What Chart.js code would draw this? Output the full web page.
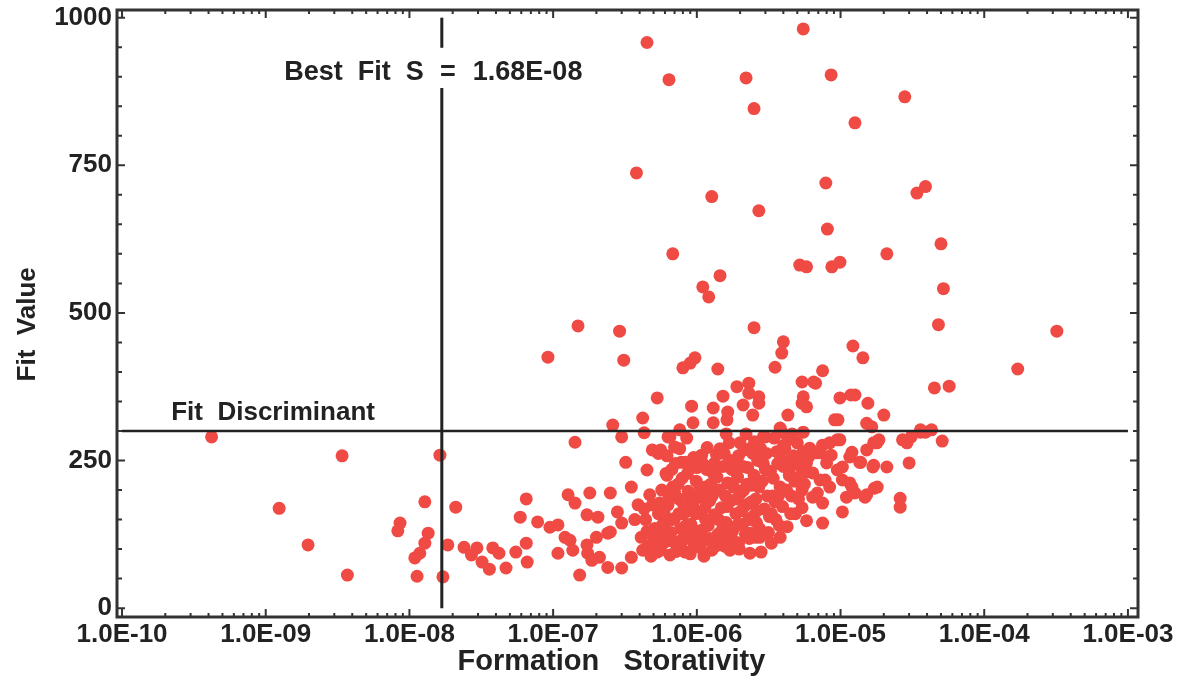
<!DOCTYPE html>
<html>
<head>
<meta charset="utf-8">
<title>Fit Value vs Formation Storativity</title>
<script src="https://cdn.jsdelivr.net/npm/chart.js@4.4.0/dist/chart.umd.min.js"></script>
<style>
html, body { margin: 0; padding: 0; background: #fff; }
#wrap { width: 1185px; height: 681px; }
</style>
</head>
<body>
<div id="wrap"><canvas id="chart" width="1185" height="681"></canvas></div>
<script>
// axis ticks
const xDecades = [1e-10, 1e-9, 1e-8, 1e-7, 1e-6, 1e-5, 1e-4, 1e-3];
const yTicks = [0, 250, 500, 750, 1000];

// reference lines
const bestFitS = 1.68e-8;
const fitDiscriminant = 300;

// [storativity, fit value]
const leftTail = [
    [4.2e-10, 290], [1.24e-9, 169], [1.97e-9, 107], [3.4e-9, 258], [3.7e-9, 56],
    [8.6e-9, 144], [8.3e-9, 131], [1.28e-8, 180], [1.35e-8, 127], [1.28e-8, 110],
    [1.18e-8, 93], [1.09e-8, 85], [1.13e-8, 54], [1.63e-8, 259], [1.71e-8, 53],
    [1.85e-8, 107], [2.1e-8, 171], [2.4e-8, 103], [2.95e-8, 102], [2.7e-8, 90],
    [3.2e-8, 78], [3.6e-8, 66], [3.8e-8, 102], [4.2e-8, 93], [4.7e-8, 68],
    [5.5e-8, 95], [6.5e-8, 110], [6.6e-8, 78], [6.5e-8, 185], [5.9e-8, 154],
    [7.8e-8, 146], [9.5e-8, 137], [9.2e-8, 425]
];

const lowerMiddle = [
    [1.08e-7, 141], [1.27e-7, 192], [1.42e-7, 178], [1.21e-7, 120], [1.31e-7, 115],
    [1.08e-7, 93], [1.37e-7, 98], [1.53e-7, 56], [1.42e-7, 281], [1.8e-7, 195],
    [1.72e-7, 158], [2.05e-7, 154], [1.72e-7, 107], [1.74e-7, 93], [2.0e-7, 120],
    [1.86e-7, 81], [2.5e-7, 195], [2.8e-7, 163], [2.4e-7, 69], [3.0e-7, 68],
    [2.5e-7, 129], [3.0e-7, 144], [3.5e-7, 86], [3.5e-7, 205], [3.2e-7, 247],
    [4.5e-7, 234], [2.6e-7, 310], [3.0e-7, 290], [4.2e-7, 322], [4.3e-7, 297],
    [5.3e-7, 356], [4.9e-7, 268], [6.2e-7, 225], [5.6e-7, 268], [6.3e-7, 290],
    [7.0e-7, 273], [7.8e-7, 247], [1.49e-7, 478], [2.9e-7, 469], [3.1e-7, 420],
    [2.4e-7, 127], [2.1e-7, 86], [5.4e-7, 262], [7.6e-7, 302], [6.5e-7, 290],
    [8.3e-7, 247], [1.08e-6, 259], [8.5e-7, 288], [1.05e-6, 256]
];

const upperScatter = [
    [4.5e-7, 958], [6.4e-7, 895], [2.2e-6, 898], [2.5e-6, 846], [5.5e-6, 981],
    [8.6e-6, 903], [2.8e-5, 866], [1.26e-5, 822], [3.8e-7, 737], [1.27e-6, 697],
    [2.7e-6, 673], [7.9e-6, 720], [8.1e-6, 642], [3.4e-5, 703], [3.9e-5, 714],
    [6.8e-7, 600], [2.1e-5, 600], [5.0e-5, 617], [5.2e-5, 541], [4.8e-5, 480],
    [3.2e-4, 469], [1.71e-4, 405], [4.5e-5, 373], [5.7e-5, 376], [1.45e-6, 563],
    [1.1e-6, 544], [1.21e-6, 527], [5.2e-6, 581], [5.8e-6, 578], [8.7e-6, 578],
    [9.9e-6, 586], [2.5e-6, 475], [4.0e-6, 451], [3.9e-6, 432], [8.0e-7, 407],
    [9.7e-7, 424], [9.0e-7, 415], [1.4e-6, 405], [3.5e-6, 408], [1.22e-5, 444],
    [1.43e-5, 424], [7.5e-6, 402]
];

const band300 = [
    [1.9e-6, 375], [2.3e-6, 381], [2.3e-6, 364], [5.4e-6, 383], [6.5e-6, 383],
    [1.52e-6, 359], [2.7e-6, 358], [5.5e-6, 358], [9.9e-6, 356], [1.26e-5, 361],
    [1.55e-5, 347], [9.2e-7, 342], [1.3e-6, 339], [2.1e-6, 344], [2.7e-6, 347],
    [5.4e-6, 347], [4.3e-6, 327], [9.1e-6, 319], [1.52e-5, 313], [2.0e-5, 327],
    [2.45e-6, 327], [1.64e-6, 332], [5.8e-6, 341], [6.7e-6, 381], [1.18e-5, 361],
    [9.6e-6, 319], [1.65e-5, 307], [9.4e-7, 314], [1.3e-6, 314], [1.62e-6, 319],
    [3.8e-6, 305], [4.3e-5, 302], [3.6e-5, 298], [5.1e-5, 283], [3.1e-5, 290],
    [2.9e-5, 280], [3.9e-5, 298]
];

const rightSide = [
    [1.79e-5, 280], [1.85e-5, 285], [1.52e-5, 268], [1.36e-5, 247], [1.68e-5, 239],
    [1.72e-5, 203], [1.48e-5, 188], [1.16e-5, 212], [1.26e-5, 195], [1.1e-5, 188],
    [1.03e-5, 163], [7.5e-6, 144], [3.8e-6, 120], [8.4e-6, 280], [9.9e-6, 285],
    [1.03e-5, 239], [8.6e-6, 259], [7.5e-6, 276], [6.8e-6, 263], [6.0e-6, 256],
    [7.8e-6, 217], [6.9e-6, 195], [5.5e-6, 298], [3.9e-6, 298], [2.9e-6, 290],
    [3.0e-5, 246], [2.6e-5, 186], [2.6e-5, 171], [2.1e-5, 239], [2.7e-5, 285],
    [1.2e-5, 205], [1.52e-5, 192], [1.8e-5, 205], [1.7e-5, 242], [1.38e-5, 247],
    [1.16e-5, 256], [1.2e-5, 264], [9.5e-6, 285], [7.2e-6, 263], [6.1e-6, 271],
    [8.0e-6, 246], [9.5e-6, 234], [1.03e-5, 217], [8.4e-6, 205], [7.2e-6, 217],
    [6.4e-6, 229], [5.8e-6, 246], [4.9e-6, 251], [4.4e-6, 234], [5.2e-6, 217],
    [5.4e-6, 200], [6.4e-6, 188], [7.5e-6, 178], [1.7e-5, 280], [3.6e-5, 302],
    [1.05e-6, 103], [8.0e-7, 98], [1.3e-6, 110], [1.7e-6, 120], [1.95e-6, 110],
    [2.34e-6, 127], [2.74e-6, 120], [2.34e-6, 93], [2.8e-6, 95], [1.7e-6, 98]
];

const mainCluster = [
    [4.1e-7, 120], [4.4e-7, 150], [4.6e-7, 105], [4.9e-7, 175], [5.1e-7, 135],
    [5.3e-7, 95], [4.3e-7, 168], [5.4e-7, 160], [4.8e-7, 88], [5.0e-7, 118],
    [5.7e-7, 200], [5.8e-7, 142], [6.0e-7, 112], [6.1e-7, 228], [6.3e-7, 175],
    [6.5e-7, 90], [6.6e-7, 128], [6.8e-7, 205], [7.0e-7, 152], [7.1e-7, 245],
    [7.3e-7, 108], [7.5e-7, 185], [7.7e-7, 135], [7.9e-7, 220], [8.1e-7, 160],
    [8.3e-7, 95], [8.5e-7, 118], [8.7e-7, 198], [8.9e-7, 240], [9.1e-7, 142],
    [9.4e-7, 172], [9.6e-7, 105], [9.9e-7, 215], [1.01e-6, 130], [1.03e-6, 188],
    [6.2e-7, 258], [7.6e-7, 270], [8.8e-7, 165], [6.9e-7, 112], [9.3e-7, 120],
    [1.07e-6, 160], [1.1e-6, 245], [1.12e-6, 115], [1.15e-6, 205], [1.18e-6, 272],
    [1.2e-6, 140], [1.23e-6, 182], [1.27e-6, 98], [1.3e-6, 228], [1.33e-6, 158],
    [1.37e-6, 260], [1.4e-6, 125], [1.44e-6, 200], [1.48e-6, 170], [1.52e-6, 240],
    [1.56e-6, 105], [1.6e-6, 145], [1.64e-6, 212], [1.68e-6, 280], [1.72e-6, 182],
    [1.77e-6, 130], [1.82e-6, 250], [1.87e-6, 160], [1.92e-6, 222], [1.97e-6, 100],
    [2.02e-6, 195], [2.08e-6, 142], [2.14e-6, 268], [2.2e-6, 175], [2.26e-6, 238],
    [2.32e-6, 118], [2.38e-6, 208], [2.45e-6, 155], [2.52e-6, 282], [2.58e-6, 185],
    [2.65e-6, 250], [2.72e-6, 135], [1.25e-6, 210], [1.58e-6, 190], [1.95e-6, 258],
    [2.3e-6, 150], [1.12e-6, 88], [1.45e-6, 270],
    [2.85e-6, 215], [2.95e-6, 168], [3.05e-6, 262], [3.15e-6, 128], [3.25e-6, 232],
    [3.35e-6, 190], [3.45e-6, 288], [3.55e-6, 150], [3.65e-6, 245], [3.8e-6, 205],
    [3.95e-6, 172], [4.1e-6, 270], [4.25e-6, 138], [4.4e-6, 225], [4.55e-6, 190],
    [4.7e-6, 258], [4.85e-6, 160], [5.0e-6, 280], [5.2e-6, 242], [5.4e-6, 170],
    [5.6e-6, 210], [5.8e-6, 148], [3.3e-6, 110], [4.0e-6, 240], [4.6e-6, 295],
    [3.0e-6, 290], [2.9e-6, 125]
];

const clusterCore = [
    [3.7e-7, 150], [3.9e-7, 175], [4.2e-7, 98], [4.5e-7, 130], [4.7e-7, 192],
    [5.2e-7, 112], [5.5e-7, 178], [5.6e-7, 98], [5.9e-7, 162], [6.2e-7, 125],
    [6.4e-7, 190], [6.7e-7, 150], [7.2e-7, 96], [7.4e-7, 210], [7.8e-7, 115],
    [8.0e-7, 178], [8.4e-7, 140], [8.6e-7, 228], [9.0e-7, 92], [9.2e-7, 190],
    [9.5e-7, 255], [9.8e-7, 160], [1.0e-6, 238], [6.7e-7, 235], [5.9e-7, 122],
    [1.05e-6, 205], [1.08e-6, 132], [1.14e-6, 170], [1.17e-6, 235], [1.22e-6, 118],
    [1.28e-6, 190], [1.35e-6, 105], [1.38e-6, 222], [1.42e-6, 150], [1.5e-6, 132],
    [1.55e-6, 262], [1.62e-6, 172], [1.66e-6, 120], [1.75e-6, 235], [1.8e-6, 205],
    [1.85e-6, 112], [1.9e-6, 185], [2.0e-6, 280], [2.05e-6, 165], [2.1e-6, 240],
    [2.18e-6, 125], [2.24e-6, 210], [2.35e-6, 270], [2.4e-6, 180], [2.5e-6, 225],
    [2.55e-6, 120], [2.62e-6, 165], [2.7e-6, 205], [2.78e-6, 270], [2.9e-6, 245],
    [3.1e-6, 190], [3.2e-6, 155], [3.4e-6, 220], [3.6e-6, 265], [3.75e-6, 140],
    [3.9e-6, 250], [4.2e-6, 200], [4.5e-6, 160], [4.8e-6, 215], [5.1e-6, 185],
    [5.5e-6, 265], [5.7e-6, 230], [3.5e-6, 180], [4.3e-6, 285], [2.2e-6, 295],
    [1.6e-6, 295],
    [6.0e-7, 145], [7.0e-7, 195], [8.2e-7, 130], [9.7e-7, 185], [1.15e-6, 150],
    [1.32e-6, 245], [1.47e-6, 115], [1.7e-6, 250], [2.12e-6, 200], [2.6e-6, 145],
    [3.0e-6, 235], [3.7e-6, 190], [4.4e-6, 250], [5.3e-6, 225], [1.9e-6, 140],
    [7.5e-7, 160], [1.1e-6, 190], [2.45e-6, 262], [3.3e-6, 160], [4.0e-6, 275]
];

const FONT = "'Liberation Sans', Arial, sans-serif";
const INK = '#222222';
const DOT = 'rgb(240, 74, 68)';

function fmt_sci(v)
{
    const parts = v.toExponential(1).split('e');
    const exp = parseInt(parts[1], 10);
    const sign = exp < 0 ? '-' : '+';
    const mag = Math.abs(exp);
    return parts[0] + 'E' + sign + (mag < 10 ? '0' + mag : mag);
}

function to_points(arr)
{
    return arr.map(p => ({x: p[0], y: p[1]}));
}

const allPoints = [].concat(leftTail, lowerMiddle, upperScatter, band300, rightSide, mainCluster, clusterCore);

// frame, inward ticks and the two line labels
const decorations = {
    id: 'decorations',
    afterDraw(chart) {
        const ctx = chart.ctx;
        const area = chart.chartArea;
        const xs = chart.scales.x;
        const ys = chart.scales.y;

        ctx.save();
        ctx.strokeStyle = '#333';
        ctx.lineWidth = 2;

        // x ticks, top and bottom
        for (let i = 0; i < xDecades.length; i++) {
            for (let m = 1; m <= 9; m++) {
                const v = xDecades[i] * m;
                if (v > xDecades[xDecades.length - 1] * 1.0001)
                    break;
                const px = xs.getPixelForValue(v);
                const len = m === 1 ? 8 : 4;
                ctx.beginPath();
                ctx.moveTo(px, area.bottom);
                ctx.lineTo(px, area.bottom - len);
                ctx.moveTo(px, area.top);
                ctx.lineTo(px, area.top + len);
                ctx.stroke();
            }
        }

        // y ticks, left and right
        for (let v = 0; v <= 1000; v += 50) {
            const py = ys.getPixelForValue(v);
            const len = v % 250 === 0 ? 8 : 5;
            ctx.beginPath();
            ctx.moveTo(area.left, py);
            ctx.lineTo(area.left + len, py);
            ctx.moveTo(area.right, py);
            ctx.lineTo(area.right - len, py);
            ctx.stroke();
        }

        // frame
        ctx.lineWidth = 3;
        ctx.strokeRect(area.left, area.top, area.right - area.left, area.bottom - area.top);

        // labels
        ctx.fillStyle = INK;
        ctx.font = 'bold 27px ' + FONT;
        ctx.textBaseline = 'alphabetic';

        const lx = xs.getPixelForValue(bestFitS) + 4;
        const ly = ys.getPixelForValue(895);
        ctx.textAlign = 'right';
        ctx.fillText('Best  Fit  S', lx - 22, ly);
        ctx.textAlign = 'center';
        ctx.fillText('=', lx + 2, ly);
        ctx.textAlign = 'left';
        ctx.fillText('1.68E-08', lx + 27, ly);

        ctx.font = 'bold 26px ' + FONT;
        ctx.fillText('Fit  Discriminant', xs.getPixelForValue(2.2e-10), ys.getPixelForValue(fitDiscriminant) - 11);
        ctx.restore();
    }
};

const lineStyle = {
    showLine: true,
    pointRadius: 0,
    borderColor: INK,
    borderWidth: 3,
    order: 0
};

const config = {
    type: 'scatter',
    data: {
        datasets: [
            Object.assign({
                label: 'best fit lower',
                data: [{x: bestFitS, y: 0}, {x: bestFitS, y: 881}]
            }, lineStyle),
            Object.assign({
                label: 'best fit upper',
                data: [{x: bestFitS, y: 949}, {x: bestFitS, y: 1000}]
            }, lineStyle),
            Object.assign({
                label: 'discriminant',
                data: [{x: xDecades[0], y: fitDiscriminant}, {x: xDecades[xDecades.length - 1], y: fitDiscriminant}]
            }, lineStyle, {borderWidth: 2.5}),
            {
                label: 'fit',
                data: to_points(allPoints),
                pointRadius: 6.5,
                pointHoverRadius: 6.5,
                pointBorderWidth: 0,
                backgroundColor: DOT,
                order: 1
            }
        ]
    },
    options: {
        responsive: false,
        animation: false,
        devicePixelRatio: 1,
        layout: {
            padding: {left: 0, top: 10, right: 47, bottom: 0}
        },
        plugins: {
            legend: {display: false},
            tooltip: {enabled: false}
        },
        scales: {
            x: {
                type: 'logarithmic',
                min: Math.pow(10, -10.035),
                max: Math.pow(10, -2.93),
                afterBuildTicks: scale => {
                    scale.ticks = xDecades.map(v => ({value: v}));
                },
                afterFit: scale => {
                    scale.height = 64;
                    scale.paddingLeft = 0;
                    scale.paddingRight = 0;
                },
                grid: {display: false, drawTicks: false},
                border: {display: false},
                ticks: {
                    autoSkip: false,
                    maxRotation: 0,
                    padding: 2,
                    color: INK,
                    font: {family: FONT, size: 26, weight: 'bold'},
                    callback: v => fmt_sci(v)
                },
                title: {
                    display: true,
                    // trailing spaces nudge the centred title left, as in the original
                    text: 'Formation   Storativity    ',
                    color: INK,
                    padding: {top: 0, bottom: 2},
                    font: {family: FONT, size: 29, weight: 'bold'}
                }
            },
            y: {
                type: 'linear',
                min: -15,
                max: 1013,
                afterBuildTicks: scale => {
                    scale.ticks = yTicks.map(v => ({value: v}));
                },
                afterFit: scale => {
                    scale.width = 117;
                    scale.paddingTop = 0;
                    scale.paddingBottom = 0;
                },
                grid: {display: false, drawTicks: false},
                border: {display: false},
                ticks: {
                    padding: 5,
                    color: INK,
                    font: {family: FONT, size: 26, weight: 'bold'},
                    callback: v => String(v)
                },
                title: {
                    display: true,
                    text: 'Fit  Value   ',
                    color: INK,
                    padding: {top: 12, bottom: 0},
                    font: {family: FONT, size: 26, weight: 'bold'}
                }
            }
        }
    },
    plugins: [decorations]
};

const chart = new Chart(document.getElementById('chart').getContext('2d'), config);
</script>
</body>
</html>
